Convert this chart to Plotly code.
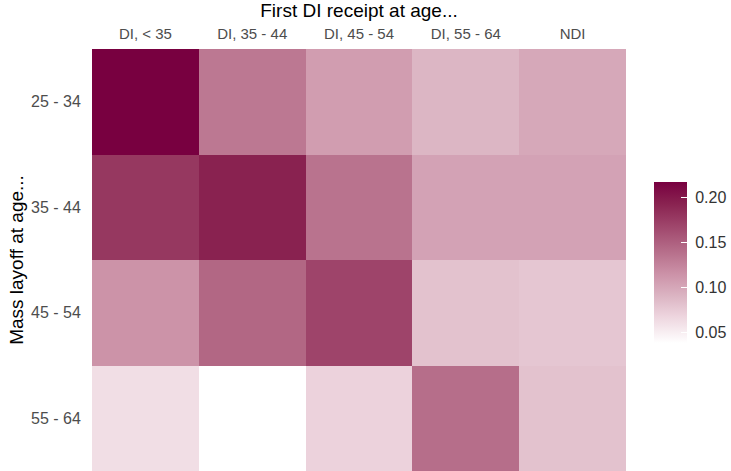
import plotly.graph_objects as go

# Data
di_groups = ["DI, < 35", "DI, 35 - 44", "DI, 45 - 54", "DI, 55 - 64", "NDI"]
layoff_groups = ["25 - 34", "35 - 44", "45 - 54", "55 - 64"]
row_25_34 = [0.217, 0.133, 0.107, 0.089, 0.099]
row_35_44 = [0.178, 0.193, 0.136, 0.103, 0.103]
row_45_54 = [0.114, 0.145, 0.169, 0.081, 0.078]
row_55_64 = [0.061, 0.038, 0.0695, 0.140, 0.081]
cbar_ticks = [0.05, 0.10, 0.15, 0.20]
cbar_labels = ["0.05", "0.10", "0.15", "0.20"]

z = [row_25_34, row_35_44, row_45_54, row_55_64]
zmin = min(min(r) for r in z)
zmax = max(max(r) for r in z)

colorscale = [
    [0.0, "rgb(255,255,255)"],
    [0.176, "rgb(236,210,220)"],
    [0.286, "rgb(220,182,196)"],
    [0.427, "rgb(204,146,168)"],
    [0.549, "rgb(185,115,142)"],
    [0.733, "rgb(158,68,106)"],
    [0.867, "rgb(137,34,80)"],
    [1.0, "rgb(120,0,64)"],
]

W, H = 731, 471
FONT = "Liberation Sans, Arial, sans-serif"
NB = "\u00a0"

fig = go.Figure(
    go.Heatmap(
        x=di_groups,
        y=layoff_groups,
        z=z,
        zmin=zmin,
        zmax=zmax,
        colorscale=colorscale,
        xgap=0,
        ygap=0,
        colorbar=dict(
            xref="container",
            yref="container",
            x=654 / W,
            xanchor="left",
            y=1 - 293.5 / H,
            yanchor="middle",
            len=161,
            lenmode="pixels",
            thickness=33,
            thicknessmode="pixels",
            outlinewidth=0,
            ticks="inside",
            ticklen=6,
            tickcolor="white",
            tickwidth=1,
            tickvals=cbar_ticks,
            ticktext=[NB + t for t in cbar_labels],
            tickfont=dict(family=FONT, size=16, color="#333333"),
            xpad=0,
            ypad=0,
        ),
    )
)

fig.update_layout(
    width=W,
    height=H,
    margin=dict(l=92, r=105, t=49, b=0),
    paper_bgcolor="white",
    plot_bgcolor="white",
    font=dict(family=FONT),
    xaxis=dict(
        side="top",
        automargin=False,
        showgrid=False,
        zeroline=False,
        ticks="outside",
        ticklen=3,
        tickcolor="rgba(0,0,0,0)",
        tickfont=dict(family=FONT, size=15, color="#4d4d4d"),
        title=dict(text="First DI receipt at age...", font=dict(family=FONT, size=19, color="black"), standoff=4),
    ),
    yaxis=dict(
        autorange="reversed",
        automargin=False,
        showgrid=False,
        zeroline=False,
        ticks="outside",
        ticklen=7,
        tickcolor="rgba(0,0,0,0)",
        tickfont=dict(family=FONT, size=16, color="#4d4d4d"),
        title=dict(text="Mass layoff at age...", font=dict(family=FONT, size=19, color="black"), standoff=2),
    ),
)

fig.write_html(
    "out.html",
    config={"displayModeBar": False},
    post_script="document.body.style.margin='0';document.body.style.overflow='hidden';",
)
